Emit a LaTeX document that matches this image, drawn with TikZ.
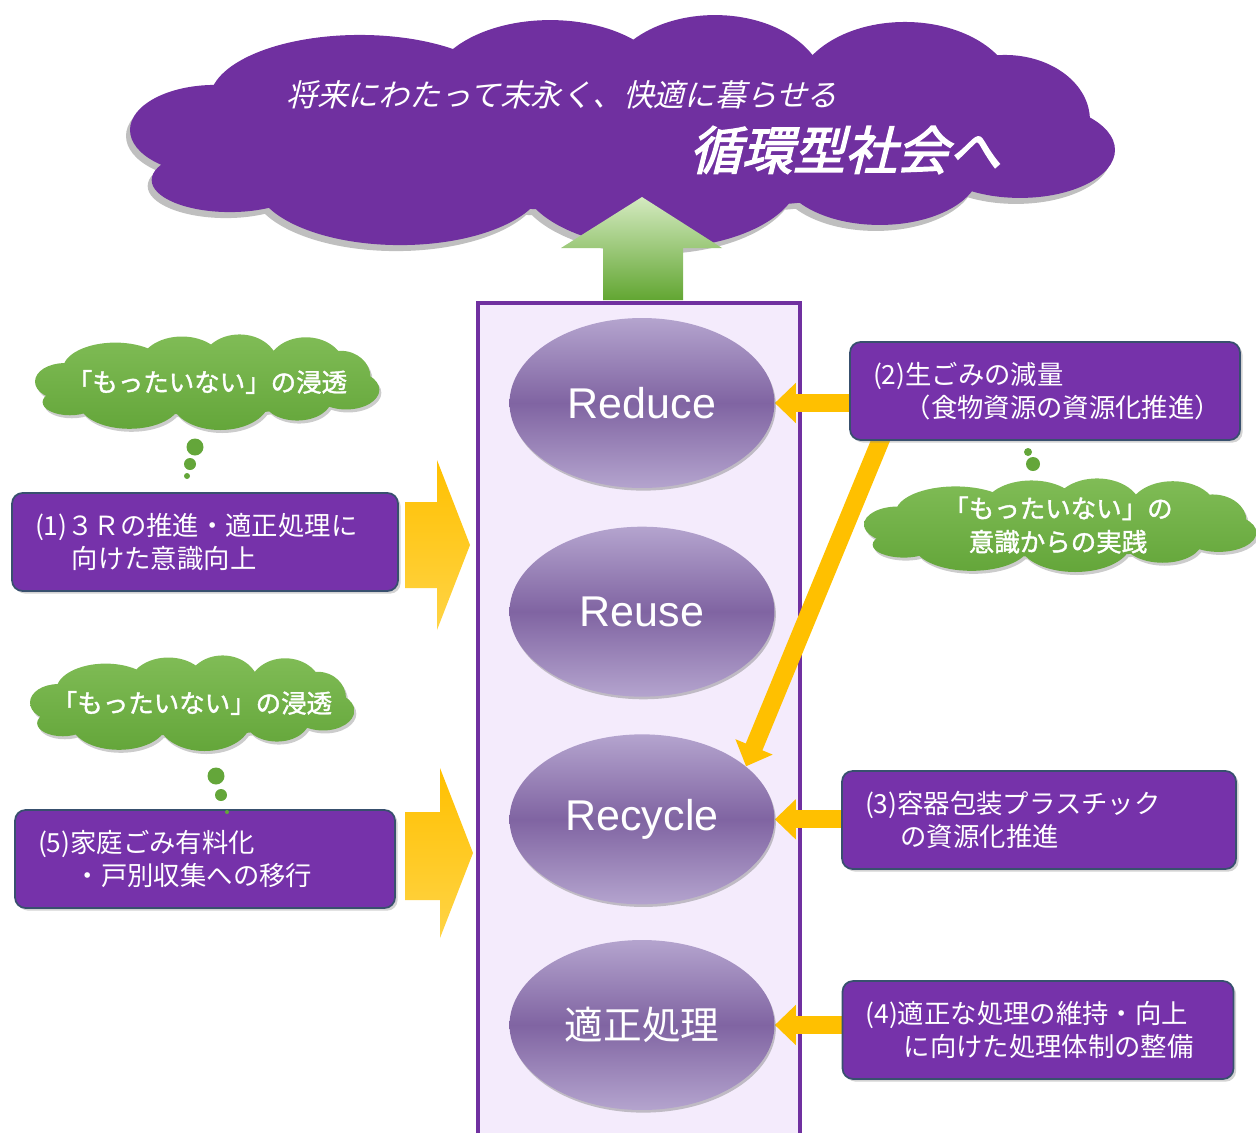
\documentclass[tikz,border=0pt]{standalone}
\usepackage{fontspec}
\setmainfont{Liberation Sans}
\newfontfamily\jpfont{Noto Sans CJK JP}
\newfontfamily\jpincl[FakeSlant=0.25]{Noto Sans CJK JP}
\newfontfamily\jpinclgras[FakeSlant=0.25, FakeBold=2.5]{Noto Sans CJK JP}
\newfontfamily\jpgras[FakeBold=1.5]{Noto Sans CJK JP}
\usepackage{tikz}
\usetikzlibrary{positioning, shapes.geometric, arrows.meta, calc, shadows}
\definecolor{violetbase}{RGB}{112, 48, 160}
\definecolor{violetboite}{RGB}{118, 50, 170}
\definecolor{bleuardoise}{RGB}{56, 80, 110}
\definecolor{lavande}{RGB}{244, 235, 252}
\definecolor{mauve}{RGB}{128, 100, 162}
\definecolor{mauveclair}{RGB}{180, 164, 206}
\definecolor{jaune}{RGB}{255, 192, 0}
\definecolor{jauneclair}{RGB}{255, 212, 70}
\definecolor{vertclair}{RGB}{128, 188, 86}
\definecolor{vertfonce}{RGB}{100, 166, 58}
\definecolor{vertpale}{RGB}{212, 234, 192}
\definecolor{vertfleche}{RGB}{98, 166, 50}
\pgfdeclarelayer{fond}
\pgfdeclarelayer{fleches}
\pgfsetlayers{fond,fleches,main}
% nuage normalise sur [-1,1] x [-1,1]
\tikzset{nuage/.pic={
    \path[pic actions] \foreach \cx/\cy/\rx/\ry in {
        -0.827/-0.009/0.173/0.385, -0.797/0.419/0.159/0.274, -0.533/-0.265/0.305/0.556,
        -0.146/-0.350/0.244/0.598, 0.189/-0.350/0.224/0.641, 0.575/-0.308/0.224/0.624,
        0.778/-0.094/0.173/0.556, 0.809/0.162/0.193/0.410, 0.524/0.333/0.203/0.470,
        0.077/0.376/0.285/0.624, -0.451/0.419/0.295/0.556, 0/0/0.813/0.684}
      { (\cx,\cy) ellipse [x radius=\rx, y radius=\ry] };
  }}

\begin{document}
\begin{tikzpicture}[x=0.02cm, y=-0.02cm,
    >={Triangle[length=0.42cm, width=0.78cm]},
    boite/.style={rectangle, rounded corners=6pt, draw=bleuardoise, line width=1pt,
                  fill=violetboite, text=white, align=left, text width=#1,
                  minimum height=1.96cm, inner xsep=0.46cm,
                  font=\jpfont\fontsize{15pt}{18.7pt}\selectfont,
                  drop shadow={opacity=0.35, shadow xshift=1.5pt, shadow yshift=-1.5pt}},
    bulle/.style={ellipse, minimum width=5.3cm, minimum height=3.4cm, inner sep=0pt,
                  top color=mauveclair, bottom color=mauveclair, middle color=mauve,
                  text=white, font=\fontsize{24.5pt}{28pt}\selectfont,
                  drop shadow={opacity=0.45, shadow xshift=0.8pt, shadow yshift=-1.5pt}},
    ombre/.style={fill=black, opacity=#1},
    nuagevert/.style={top color=vertclair, bottom color=vertfonce},
    motvert/.style={text=white, align=center, font=\jpgras\fontsize{14.5pt}{19pt}\selectfont},
    pastille/.style={circle, fill=vertfonce, inner sep=0pt, minimum size=#1},
    fleche/.style={->, line width=0.36cm, draw=jaune},
    chevron/.style={top color=jaune, bottom color=jauneclair}]
    \useasboundingbox (0,0) rectangle (1256,1133);

    % colonne centrale
    \begin{pgfonlayer}{fond}
      \fill[lavande] (478,303) rectangle (800,1133);
      \draw[violetbase, line width=2pt] (478,1133) |- (800,303) -- (800,1133);
    \end{pgfonlayer}

    % grand nuage
    \pic[ombre=0.25, xscale=492, yscale=117] at (618,137) {nuage};
    \pic[fill=violetbase, xscale=492, yscale=117] (ciel) at (622,131) {nuage};
    \node[text=white, font=\jpincl\fontsize{17.5pt}{20pt}\selectfont] (devise) at (562,95)
        {将来にわたって末永く、快適に暮らせる};
    \node[text=white, font=\jpinclgras\fontsize{29.5pt}{32pt}\selectfont] (but) at (845,150)
        {循環型社会へ};
    \shade[top color=vertpale, bottom color=vertfleche]
        (603,300) -- (603,248) -- (561,248) -- (642,197) -- (722,248) -- (683,248) -- (683,300) -- cycle;

    % les quatre ellipses
    \node[bulle] (reduce) at (642,403) {Reduce};
    \node[bulle, below=0.76cm of reduce] (reuse) {Reuse};
    \node[bulle, below=0.74cm of reuse] (recycle) {Recycle};
    \node[bulle, below=0.70cm of recycle, font=\jpfont\fontsize{22pt}{26pt}\selectfont] (traitement) {適正処理};

    % mesures
    \node[boite=6.8cm] (b1) at (205,542) {(1)３Ｒの推進・適正処理に\\\hspace*{1.4em}向けた意識向上};
    \node[boite=6.88cm] (b2) at (1045,391) {(2)生ごみの減量\\\hspace*{1.2em}（食物資源の資源化推進）};
    \node[boite=6.96cm] (b3) at (1039,820) {(3)容器包装プラスチック\\\hspace*{1.35em}の資源化推進};
    \node[boite=6.9cm] (b4) at (1038,1030) {(4)適正な処理の維持・向上\\\hspace*{1.45em}に向けた処理体制の整備};
    \node[boite=6.68cm] (b5) at (205,859) {(5)家庭ごみ有料化\\\hspace*{1.4em}・戸別収集への移行};

    % nuages verts
    \pic[ombre=0.2, xscale=172, yscale=48] at (209,385) {nuage};
    \pic[nuagevert, xscale=172, yscale=48] (n1) at (207,382) {nuage};
    \node[motvert] (m1) at (207,382) {「もったいない」の浸透};
    \pic[ombre=0.2, xscale=162, yscale=48] at (194,706) {nuage};
    \pic[nuagevert, xscale=162, yscale=48] (n5) at (192,703) {nuage};
    \node[motvert] (m5) at (192,703) {「もったいない」の浸透};
    \pic[ombre=0.2, xscale=196, yscale=47] at (1062,528) {nuage};
    \pic[nuagevert, xscale=196, yscale=47] (n2) at (1060,525) {nuage};
    \node[motvert] (m2) at (1058,525) {「もったいない」の\\意識からの実践};
    \foreach \px/\py/\d [count=\i] in {195/447/0.34, 190/464/0.24, 187/476/0.12,
                                       216/776/0.34, 221/795/0.24, 227/812/0.08,
                                       1033/464/0.28, 1028/452/0.16}
      \node[pastille=\d cm] (p\i) at (\px,\py) {};

    % fleches jaunes
    \begin{pgfonlayer}{fleches}
      \shade[chevron] (405,502) -- (437,502) -- (437,460) -- (470,545) -- (437,630) -- (437,588) -- (405,588) -- cycle;
      \shade[chevron] (405,812) -- (440,812) -- (440,768) -- (473,853) -- (440,938) -- (440,900) -- (405,900) -- cycle;
      \draw[fleche] (reduce.east -| b2.west) -- (reduce.east);
      \draw[fleche] (recycle.east -| b3.west) -- (recycle.east);
      \draw[fleche] (traitement.east -| b4.west) -- (traitement.east);
      \draw[fleche] ($(b2.south west)!0.09!(b2.south east) + (0,-10)$) -- (recycle.27);
    \end{pgfonlayer}
  \end{tikzpicture}
\end{document}
